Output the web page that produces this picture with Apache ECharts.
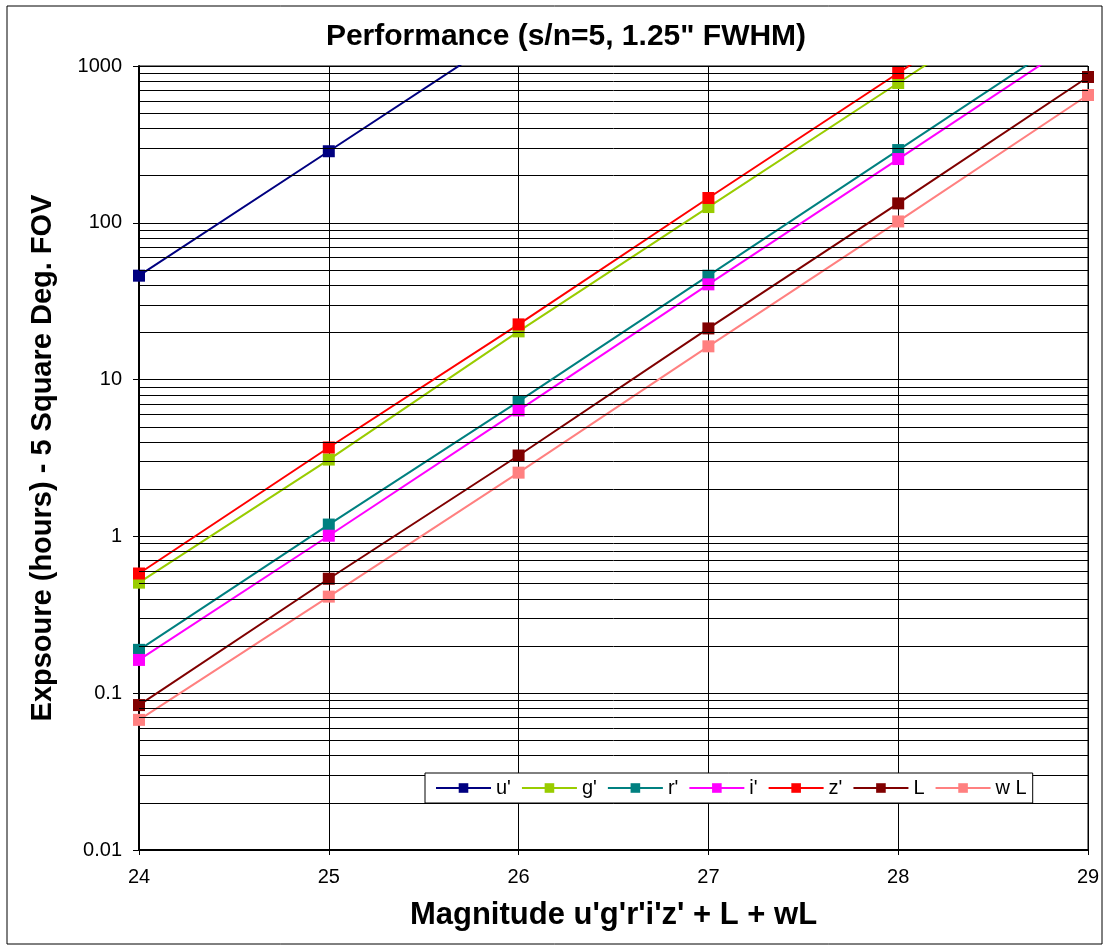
<!DOCTYPE html>
<html>
<head>
<meta charset="utf-8">
<style>
  html, body { margin: 0; padding: 0; background: #fff; }
  #main { width: 1105px; height: 947px; }
</style>
<script src="https://cdn.jsdelivr.net/npm/echarts@6/dist/echarts.min.js"></script>
</head>
<body>
<div id="main"></div>
<script>
// magnitudes on the x axis
var mags = [24, 25, 26, 27, 28, 29];

// exposure hours (points above 1000 are off the chart)
var uBand = [46, 286, 1780, null, null, null];
var gBand = [0.507, 3.09, 20.3, 126, 779, 4800];
var rBand = [0.189, 1.19, 7.26, 46, 291, 1830];
var iBand = [0.163, 1.01, 6.36, 40.5, 255, 1610];
var zBand = [0.58, 3.69, 22.5, 144, 902, 5700];
var lBand = [0.084, 0.537, 3.28, 21.2, 133, 851];
var wlBand = [0.0676, 0.413, 2.55, 16.3, 102, 653];

var names = ["u'", "g'", "r'", "i'", "z'", "L", "w L"];
var colors = ['#000080', '#99CC00', '#008080', '#FF00FF', '#FF0000', '#800000', '#FF8080'];
var bands = [uBand, gBand, rBand, iBand, zBand, lBand, wlBand];

// minor gridlines at 2..9 of every decade
var decades = [0.01, 0.1, 1, 10, 100];
var minorLines = [];
decades.forEach(function (d) {
  for (var k = 2; k <= 9; k++) minorLines.push({ yAxis: +(d * k).toPrecision(3) });
});

var font = '"Liberation Sans", Arial, sans-serif';

var series = bands.map(function (vals, i) {
  return {
    name: names[i],
    type: 'line',
    data: mags.map(function (m, j) { return [m, vals[j]]; }),
    symbol: 'rect',
    symbolSize: 12,
    showSymbol: true,
    clip: true,
    z: 3,
    itemStyle: { color: colors[i] },
    lineStyle: { color: colors[i], width: 2 }
  };
});

series.push({
  name: 'grid',
  type: 'line',
  data: [],
  silent: true,
  z: 1,
  markLine: {
    silent: true,
    symbol: ['none', 'none'],
    label: { show: false },
    lineStyle: { color: '#000', width: 1, type: 'solid' },
    data: minorLines
  }
});

var myChart = echarts.init(document.getElementById('main'));

myChart.setOption({
  animation: false,
  backgroundColor: '#fff',
  textStyle: { fontFamily: font },
  graphic: [{
    type: 'rect',
    shape: { x: 7, y: 6, width: 1095, height: 938 },
    style: { fill: 'none', stroke: '#000', lineWidth: 1 },
    silent: true,
    z: 0
  }],
  title: {
    text: 'Performance (s/n=5, 1.25" FWHM)',
    left: 561,
    top: 17,
    textAlign: 'center',
    textStyle: { fontFamily: font, fontSize: 30, fontWeight: 'bold', color: '#000' }
  },
  grid: {
    left: 139,
    right: 17,
    top: 66,
    bottom: 97,
    show: true,
    borderColor: '#000',
    borderWidth: 1,
    backgroundColor: '#fff'
  },
  legend: {
    data: names,
    left: 425,
    top: 773,
    orient: 'horizontal',
    backgroundColor: '#fff',
    borderColor: '#000',
    borderWidth: 1,
    padding: [5, 6, 5, 10],
    itemWidth: 55,
    itemHeight: 12,
    itemGap: 10,
    textStyle: { fontFamily: font, fontSize: 20, color: '#000' },
    z: 10
  },
  xAxis: {
    type: 'value',
    min: 24,
    max: 29,
    interval: 1,
    name: "Magnitude u'g'r'i'z' + L + wL",
    nameLocation: 'middle',
    nameGap: 50,
    nameTextStyle: { fontFamily: font, fontSize: 31, fontWeight: 'bold', color: '#000' },
    axisLine: { lineStyle: { color: '#000', width: 2 } },
    axisTick: { show: true, length: 5, lineStyle: { color: '#000' } },
    axisLabel: { fontFamily: font, fontSize: 20, color: '#000', margin: 17 },
    splitLine: { show: true, lineStyle: { color: '#000', width: 1 } }
  },
  yAxis: {
    type: 'log',
    logBase: 10,
    min: 0.01,
    max: 1000,
    name: 'Expsoure (hours) - 5 Square Deg. FOV',
    nameLocation: 'middle',
    nameGap: 82,
    nameTextStyle: { fontFamily: font, fontSize: 29, fontWeight: 'bold', color: '#000' },
    axisLine: { lineStyle: { color: '#000', width: 2 } },
    axisTick: { show: true, length: 6, lineStyle: { color: '#000' } },
    axisLabel: {
      fontFamily: font, fontSize: 20, color: '#000', margin: 17,
      formatter: function (v) { return String(+v.toPrecision(3)); }
    },
    splitLine: { show: true, lineStyle: { color: '#000', width: 1 } }
  },
  series: series
});
</script>
</body>
</html>
